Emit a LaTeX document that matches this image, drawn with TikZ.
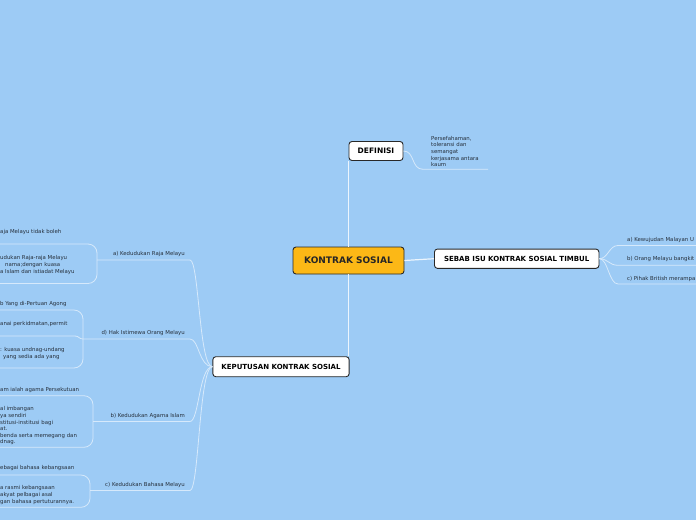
\documentclass[tikz,border=0pt]{standalone}
\usepackage{fontspec}
\setmainfont{DejaVu Sans}
\definecolor{bg}{RGB}{157,203,245}
\definecolor{conn}{RGB}{214,233,251}
\definecolor{mainconn}{RGB}{236,245,253}
\definecolor{orangefill}{RGB}{252,184,22}
\definecolor{leaftext}{RGB}{38,48,60}
\definecolor{boxborder}{RGB}{40,40,40}
\tikzset{
  topic/.style={draw=boxborder, line width=0.9pt, rounded corners=3pt, fill=white,
    font=\bfseries\fontsize{7}{8}\selectfont, text=black, inner sep=0pt},
  central/.style={topic, fill=orangefill, font=\bfseries\fontsize{9}{10}\selectfont, text=black!85},
  leaf/.style={font=\fontsize{5.4}{6.8}\selectfont, text=leaftext, inner sep=0pt, align=left},
  link/.style={draw=conn, line width=0.8pt},
  mainlink/.style={draw=mainconn, line width=1.2pt},
}
\begin{document}
\begin{tikzpicture}[x=1pt,y=-1pt]
\fill[bg] (0,0) rectangle (696,520);
\useasboundingbox (0,0) rectangle (696,520);

% main topics
\node[central, minimum width=111pt, minimum height=27pt] (kontrak) at (348.5,260.5) {KONTRAK SOSIAL};
\node[topic, minimum width=54pt, minimum height=19pt, font=\bfseries\fontsize{7.5}{8}\selectfont] (def) at (376,151) {DEFINISI};
\node[topic, minimum width=164.5pt, minimum height=19.3pt] (sebab) at (516.7,258.7) {SEBAB ISU KONTRAK SOSIAL TIMBUL};
\node[topic, minimum width=136.3pt, minimum height=20pt] (kep) at (281,366.7) {KEPUTUSAN KONTRAK SOSIAL};

\draw[mainlink] (kontrak.north) -- (kontrak.north |- def.south);
\draw[mainlink] (kontrak.south) -- (kontrak.south |- kep.north);
\draw[mainlink] (kontrak.east) -- (sebab.west);

% definisi leaf
\node[leaf, anchor=north west, font=\fontsize{5.4}{6.6}\selectfont] (defleaf) at (431,135.9)
  {Persefahaman,\\toleransi dan\\semangat\\kerjasama antara\\kaum};
\coordinate (defU1) at (423,169.3);
\coordinate (defU2) at (488,169.3);
\draw[link] (def.east) .. controls (415,151) and (411,169.3) .. (defU1) -- (defU2);

% sebab leaves
\node[leaf, anchor=west] (ra) at (627,240) {a) Kewujudan Malayan U};
\node[leaf, anchor=west] (rb) at (627,259.3) {b) Orang Melayu bangkit};
\node[leaf, anchor=west] (rc) at (627,279.3) {c) Pihak British merampa};
\coordinate (raS) at (618,245.5); \coordinate (raE) at (697,245.5);
\coordinate (rbS) at (618,265.3); \coordinate (rbE) at (697,265.3);
\coordinate (rcS) at (618,284);   \coordinate (rcE) at (697,284);
\draw[link] (sebab.east) .. controls (608,258.7) and (609,245.5) .. (raS) -- (raE);
\draw[link] (sebab.east) .. controls (608,258.7) and (609,265.3) .. (rbS) -- (rbE);
\draw[link] (sebab.east) .. controls (608,258.7) and (609,284) .. (rcS) -- (rcE);

% keputusan branches
\node[leaf, anchor=east] (ba) at (185,254) {a) Kedudukan Raja Melayu};
\node[leaf, anchor=east] (bd) at (185,333) {d) Hak Istimewa Orang Melayu};
\node[leaf, anchor=east] (bb) at (185,416) {b) Kedudukan Agama Islam};
\node[leaf, anchor=east] (bc) at (185,485) {c) Kedudukan Bahasa Melayu};
\coordinate (aJ) at (97,260);   \coordinate (aE) at (190,260);
\coordinate (dJ) at (83,339);   \coordinate (dE) at (190,339);
\coordinate (bJ) at (93,421.5); \coordinate (bE) at (190,421.5);
\coordinate (cJ) at (90,490.5); \coordinate (cE) at (190,490.5);
\draw[link] (kep.west) .. controls (199,366.7) and (199,260) .. (aE) -- (aJ);
\draw[link] (kep.west) .. controls (199,366.7) and (199,339) .. (dE) -- (dJ);
\draw[link] (kep.west) .. controls (199,366.7) and (199,421.5) .. (bE) -- (bJ);
\draw[link] (kep.west) .. controls (199,366.7) and (199,490.5) .. (cE) -- (cJ);

% a) leaves
\node[leaf, anchor=west] (a1) at (0,232) {aja Melayu tidak boleh};
\node[leaf, anchor=north west] (a2) at (0,255.2)
  {udukan Raja-raja Melayu\\\hspace*{5pt}nama;dengan kuasa\\a Islam dan istiadat Melayu};
\coordinate (a1U) at (0,244); \coordinate (a2U) at (0,283.5);
\draw[link, rounded corners=9pt] (aJ) |- (a1U);
\draw[link, rounded corners=9pt] (aJ) |- (a2U);

% d) leaves
\node[leaf, anchor=west] (d1) at (0,304) {b Yang di-Pertuan Agong};
\node[leaf, anchor=west] (d2) at (0,324.3) {anai perkidmatan,permit};
\node[leaf, anchor=north west, font=\fontsize{5.4}{7.4}\selectfont] (d3) at (0,346.7)
  {: kuasa undnag-undang\\\hspace*{3pt}yang sedia ada yang};
\coordinate (d1U) at (0,310); \coordinate (d2U) at (0,336); \coordinate (d2M) at (75,336);
\coordinate (d3U) at (0,368);
\draw[link, rounded corners=9pt] (dJ) |- (d1U);
\draw[link] (dJ) .. controls (79,339) and (79,336) .. (d2M) -- (d2U);
\draw[link, rounded corners=9pt] (dJ) |- (d3U);

% b) leaves
\node[leaf, anchor=west] (b1) at (0,390) {am ialah agama Persekutuan};
\node[leaf, anchor=north west, font=\fontsize{5.4}{6.55}\selectfont] (b2) at (0,406.6)
  {al imbangan\\ya sendiri\\stitusi-institusi bagi\\at.\\benda serta memegang dan\\dnag.};
\coordinate (b1U) at (0,395.7); \coordinate (b2U) at (0,447.3);
\draw[link, rounded corners=9pt] (bJ) |- (b1U);
\draw[link, rounded corners=9pt] (bJ) |- (b2U);

% c) leaves
\node[leaf, anchor=west] (c1) at (0,468.3) {ebagai bahasa kebangsaan};
\node[leaf, anchor=north west, font=\fontsize{5.4}{7.2}\selectfont] (c2) at (0,484.9)
  {a rasmi kebangsaan\\akyat pelbagai asal\\gan bahasa pertuturannya.};
\coordinate (c1U) at (0,475); \coordinate (c2U) at (0,507.3);
\draw[link, rounded corners=9pt] (cJ) |- (c1U);
\draw[link, rounded corners=9pt] (cJ) |- (c2U);
\end{tikzpicture}
\end{document}
